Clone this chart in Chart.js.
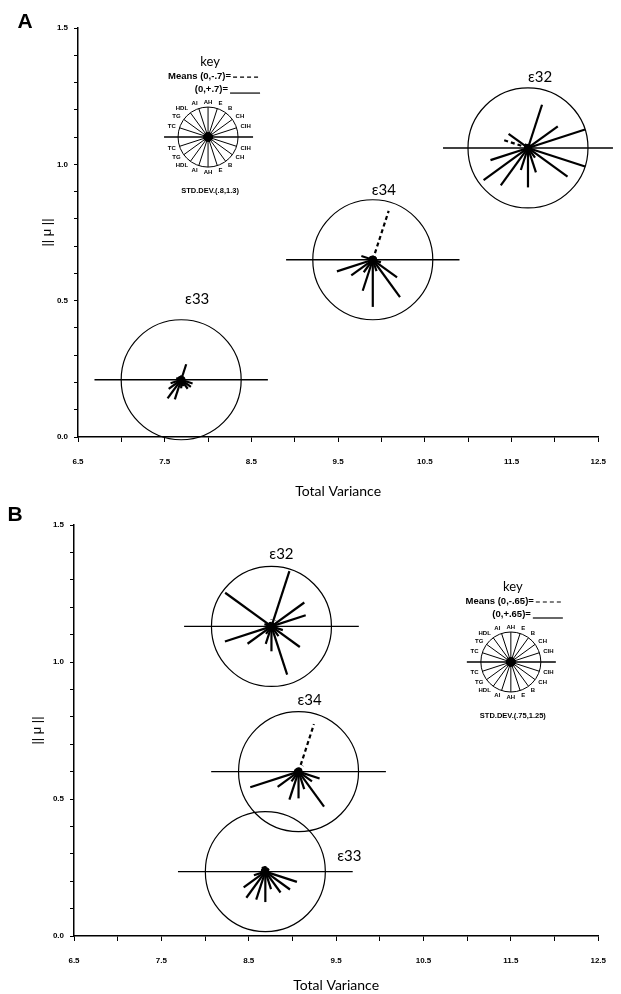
<!DOCTYPE html>
<html>
<head>
<meta charset="utf-8">
<title>Total Variance x ||mu||</title>
<script src="https://cdn.jsdelivr.net/npm/chart.js@4.4.1/dist/chart.umd.min.js"></script>
<style>
  body { margin: 0; background: #fff; }
  #wrap { position: relative; width: 621px; height: 994px; }
  canvas { position: absolute; left: 0; }
  #chartA { top: 0; }
  #chartB { top: 500px; }
</style>
</head>
<body>
<div id="wrap">
  <canvas id="chartA" width="621" height="500"></canvas>
  <canvas id="chartB" width="621" height="494"></canvas>
</div>
<script>
// variaveis de cada raio da estrela (sentido horario a partir do topo)
const varLabels = ['AH', 'E', 'B', 'CH', 'CIH', 'CIH', 'CH', 'B', 'E', 'AH', 'AI', 'HDL', 'TG', 'TC', 'TC', 'TG', 'HDL', 'AI'];
const groupNames = ['ε32', 'ε34', 'ε33'];

// ticks com texto
const xLabelTicks = [6.5, 7.5, 8.5, 9.5, 10.5, 11.5, 12.5];
const yLabelTicks = [0, 0.5, 1.0, 1.5];

// Painel A
const totalVarA = [11.69, 9.90, 7.69];
const normMuA = [1.06, 0.65, 0.21];
const barHalfA = [0.98, 1.0, 1.0];
const meansA32 = [-0.08, 0.53, -0.08, 0.43, 0.70, 0.70, 0.57, 0.14, 0.30, 0.46, 0.27, 0.54, 0.64, 0.46, -0.30, 0.28, 0.06, -0.05];
const meansA34 = [-0.07, -0.60, -0.07, 0.05, 0.05, 0.10, 0.35, 0.54, 0.14, 0.55, 0.38, 0.18, 0.31, 0.44, 0.14, 0.05, 0.05, -0.05];
const meansA33 = [0.05, 0.19, 0.04, 0.04, 0.05, 0.14, 0.14, 0.13, 0.08, 0.10, 0.24, 0.27, 0.18, 0.13, 0.06, 0.04, 0.03, 0.03];
const keyPosA = [8.0, 1.1];
const keyMeanA = 0.7;
const keySdA = [0.8, 1.3];

// Painel B
const totalVarB = [8.76, 9.07, 8.69];
const normMuB = [1.13, 0.60, 0.235];
const barHalfB = [1.0, 1.0, 1.0];
const meansB32 = [-0.08, 0.63, -0.08, 0.44, 0.39, 0.13, 0.38, 0.13, 0.55, 0.27, 0.20, 0.10, 0.32, 0.53, 0.08, 0.62, 0.05, 0.05];
const meansB34 = [-0.07, -0.54, -0.08, 0.04, 0.04, 0.24, 0.18, 0.47, 0.20, 0.29, 0.32, 0.13, 0.28, 0.55, 0.05, 0.04, 0.03, 0.03];
const meansB33 = [0.06, 0.05, 0.04, 0.05, 0.04, 0.36, 0.33, 0.28, 0.20, 0.33, 0.32, 0.35, 0.29, 0.13, 0.05, 0.05, 0.06, 0.06];
const keyPosB = [11.5, 1.0];
const keyMeanB = 0.65;
const keySdB = [0.75, 1.25];

Chart.defaults.font.family = '"Liberation Sans", Arial, sans-serif';
Chart.defaults.color = '#000';

const R = 60;      // raio do circulo de cada grupo (px)
const KEY_R = 30;  // raio do circulo da legenda

// angulo do raio j (graus), pulando a horizontal (0 e 180)
function spokeAngle(j) {
    let k = j;
    if (j >= 5) k++;
    if (j >= 14) k++;
    return 90 - 18 * k;
}

function fmt(v) {
    return String(v).replace(/^0\./, '.');
}

function isLabelTick(list, v) {
    return list.some(t => Math.abs(t - v) < 1e-6);
}

// desenha as estrelas, os nomes dos grupos e a legenda
function makeGlyphPlugin(cfg) {
    return {
        id: 'glyphs',
        beforeDatasetsDraw(chart) {
            const ctx = chart.ctx;
            const xs = chart.scales.x, ys = chart.scales.y;
            ctx.save();
            ctx.strokeStyle = '#000';
            ctx.lineWidth = 2.2;
            ctx.lineCap = 'butt';
            cfg.means.forEach((ms, i) => {
                const cx = xs.getPixelForValue(cfg.tv[i]);
                const cy = ys.getPixelForValue(cfg.mu[i]);
                ms.forEach((m, j) => {
                    const len = Math.abs(m) / cfg.meanMax * R;
                    const a = spokeAngle(j) * Math.PI / 180;
                    ctx.setLineDash(m < 0 ? [4, 3] : []);
                    ctx.beginPath();
                    ctx.moveTo(cx, cy);
                    ctx.lineTo(cx + len * Math.cos(a), cy - len * Math.sin(a));
                    ctx.stroke();
                });
            });
            ctx.restore();
        },
        afterDraw(chart) {
            const ctx = chart.ctx;
            const xs = chart.scales.x, ys = chart.scales.y;
            ctx.save();
            ctx.fillStyle = '#000';
            ctx.strokeStyle = '#000';
            ctx.textAlign = 'center';
            ctx.textBaseline = 'middle';

            // nomes dos grupos
            ctx.font = '15px Lato';
            groupNames.forEach((name, i) => {
                const cx = xs.getPixelForValue(cfg.tv[i]);
                const cy = ys.getPixelForValue(cfg.mu[i]);
                ctx.fillText(name, cx + cfg.nameOffsets[i][0], cy + cfg.nameOffsets[i][1]);
            });

            // legenda (key)
            const kx = xs.getPixelForValue(cfg.keyPos[0]);
            const ky = ys.getPixelForValue(cfg.keyPos[1]);
            ctx.lineWidth = 1;
            ctx.beginPath();
            ctx.arc(kx, ky, KEY_R, 0, Math.PI * 2);
            ctx.stroke();
            for (let j = 0; j < varLabels.length; j++) {
                const a = spokeAngle(j) * Math.PI / 180;
                ctx.beginPath();
                ctx.moveTo(kx, ky);
                ctx.lineTo(kx + KEY_R * Math.cos(a), ky - KEY_R * Math.sin(a));
                ctx.stroke();
            }
            ctx.lineWidth = 1.4;
            ctx.beginPath();
            ctx.moveTo(kx - 44, ky);
            ctx.lineTo(kx + 45, ky);
            ctx.stroke();
            ctx.beginPath();
            ctx.arc(kx, ky, 5, 0, Math.PI * 2);
            ctx.fill();

            ctx.font = 'bold 6px "Liberation Sans Narrow", "Liberation Sans", sans-serif';
            varLabels.forEach((lab, j) => {
                const a = spokeAngle(j) * Math.PI / 180;
                const c = Math.cos(a), s = Math.sin(a);
                ctx.textAlign = c > 0.3 ? 'left' : (c < -0.3 ? 'right' : 'center');
                ctx.fillText(lab, kx + 34 * c, ky - 35 * s);
            });

            ctx.textAlign = 'center';
            ctx.font = '13px Lato';
            ctx.fillText('key', kx + 2, ky - 75);

            ctx.font = 'bold 9.5px "Liberation Sans", sans-serif';
            ctx.textAlign = 'right';
            ctx.fillText('Means (0,-' + fmt(cfg.keyMean) + ')=', kx + 23, ky - 61);
            ctx.fillText('(0,+' + fmt(cfg.keyMean) + ')=', kx + 20, ky - 48);
            ctx.lineWidth = 1.2;
            ctx.setLineDash([4, 3]);
            ctx.beginPath();
            ctx.moveTo(kx + 25, ky - 60);
            ctx.lineTo(kx + 50, ky - 60);
            ctx.stroke();
            ctx.setLineDash([]);
            ctx.beginPath();
            ctx.moveTo(kx + 22, ky - 44);
            ctx.lineTo(kx + 52, ky - 44);
            ctx.stroke();

            ctx.textAlign = 'center';
            ctx.font = 'bold 7.5px "Liberation Sans", sans-serif';
            ctx.fillText('STD.DEV.(' + fmt(cfg.keySd[0]) + ',' + fmt(cfg.keySd[1]) + ')', kx + 2, ky + 54);

            // letra do painel
            ctx.font = 'bold 21px "Liberation Sans", sans-serif';
            ctx.fillText(cfg.letter, cfg.letterPos[0], cfg.letterPos[1]);
            ctx.restore();
        }
    };
}

function makePanel(canvasId, cfg) {
    const centers = cfg.tv.map((x, i) => ({ x: x, y: cfg.mu[i] }));

    const datasets = [];
    // circulos
    datasets.push({
        data: centers,
        pointRadius: R,
        pointBorderColor: '#000',
        pointBackgroundColor: 'rgba(0,0,0,0)',
        pointBorderWidth: 1.2,
        clip: false
    });
    // barras horizontais
    cfg.tv.forEach((x, i) => {
        datasets.push({
            type: 'line',
            data: [{ x: x - cfg.barHalf[i], y: cfg.mu[i] }, { x: x + cfg.barHalf[i], y: cfg.mu[i] }],
            borderColor: '#000',
            borderWidth: 1.4,
            pointRadius: 0,
            showLine: true,
            clip: false
        });
    });
    // centro das estrelas
    datasets.push({
        data: centers,
        pointRadius: 4,
        pointBackgroundColor: '#000',
        pointBorderWidth: 0,
        clip: false
    });

    return new Chart(document.getElementById(canvasId), {
        type: 'scatter',
        data: { datasets: datasets },
        plugins: [makeGlyphPlugin(cfg)],
        options: {
            responsive: false,
            animation: false,
            events: [],
            layout: {
                autoPadding: false,
                padding: { top: cfg.padTop, right: cfg.padRight, left: 0, bottom: 0 }
            },
            plugins: { legend: { display: false }, tooltip: { enabled: false } },
            scales: {
                x: {
                    type: 'linear',
                    min: 6.5,
                    max: 12.5,
                    afterFit: s => { s.height = cfg.xAxisH; },
                    ticks: {
                        stepSize: 0.5,
                        autoSkip: false,
                        maxRotation: 0,
                        padding: 15,
                        font: { size: 8, weight: 'bold' },
                        callback: v => isLabelTick(xLabelTicks, v) ? v.toFixed(1) : ''
                    },
                    grid: { drawOnChartArea: false, drawTicks: true, tickLength: 5, color: '#000', lineWidth: 1 },
                    border: { display: true, color: '#000', width: 1.5 },
                    title: {
                        display: true,
                        text: 'Total Variance',
                        font: { size: 14, family: 'Lato' },
                        padding: { top: 0, bottom: 0 }
                    }
                },
                y: {
                    type: 'linear',
                    min: 0,
                    max: 1.5,
                    afterFit: s => { s.width = cfg.yAxisW; },
                    ticks: {
                        stepSize: 0.1,
                        autoSkip: false,
                        padding: 6,
                        font: { size: 8, weight: 'bold' },
                        callback: v => isLabelTick(yLabelTicks, v) ? v.toFixed(1) : ''
                    },
                    grid: { drawOnChartArea: false, drawTicks: true, tickLength: 4, color: '#000', lineWidth: 1 },
                    border: { display: true, color: '#000', width: 1.5 },
                    title: {
                        display: true,
                        text: '|| μ ||',
                        font: { size: 13 },
                        padding: { top: cfg.yTitlePad, bottom: 0 }
                    }
                }
            }
        }
    });
}

makePanel('chartA', {
    tv: totalVarA, mu: normMuA, barHalf: barHalfA,
    means: [meansA32, meansA34, meansA33], meanMax: keyMeanA,
    keyPos: keyPosA, keyMean: keyMeanA, keySd: keySdA,
    nameOffsets: [[12, -71], [11, -70], [16, -81]],
    letter: 'A', letterPos: [25, 22],
    padTop: 28, padRight: 18, xAxisH: 63, yAxisW: 78, yTitlePad: 40
});

makePanel('chartB', {
    tv: totalVarB, mu: normMuB, barHalf: barHalfB,
    means: [meansB32, meansB34, meansB33], meanMax: keyMeanB,
    keyPos: keyPosB, keyMean: keyMeanB, keySd: keySdB,
    nameOffsets: [[10, -72], [11, -71], [84, -15]],
    letter: 'B', letterPos: [15, 15],
    padTop: 25, padRight: 20, xAxisH: 58, yAxisW: 74, yTitlePad: 30
});
</script>
</body>
</html>
